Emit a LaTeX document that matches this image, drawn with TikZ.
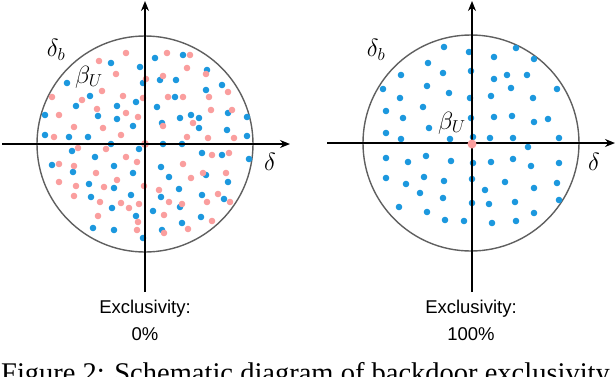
\documentclass[tikz,border=0pt]{standalone}
\usepackage{fontspec}
\setmainfont{Liberation Serif}
\newfontfamily\arialf{Liberation Sans}
\usetikzlibrary{arrows.meta}
\definecolor{dotblue}{RGB}{28,152,222}
\definecolor{dotpink}{RGB}{250,158,158}
\definecolor{ringgray}{RGB}{95,95,95}
\tikzset{
  axisline/.style={line width=1.5pt,-{Stealth[length=10pt,width=8pt]}},
  ring/.style={draw=ringgray,line width=1.4pt},
  bdot/.style={fill=dotblue},
  pdot/.style={fill=dotpink},
  mathlbl/.style={font=\fontsize{23}{23}\selectfont,inner sep=0pt},
  exlbl/.style={font=\arialf\fontsize{18.5}{18.5}\selectfont,inner sep=0pt},
}
\begin{document}
\begin{tikzpicture}[x=1pt,y=-1pt]
\useasboundingbox (0,0) rectangle (616,376);
\clip (0,0) rectangle (616,376);
% ---------- left panel ----------
\coordinate (lc) at (145,144);
\draw[ring] (lc) circle[radius=108];
\foreach \x/\y in {155/58,183/55,111/63,140/67,207/70,160/80,176/80,67/83,143/83,222/85,206/90,90/96,175/97,136/102,76/106,117/106,157/107,191/115,45/115,98/116,180/118,199/118,228/113,247/117,117/119,133/126,162/123,199/128,227/130,45/135,69/137,88/137,247/136,111/144,163/144,182/144,72/151,139/149,202/153,222/155,95/157,249/159,52/165,114/166,161/167,73/172,133/173,206/175,169/177,228/182,89/184,114/188,179/189,131/195,91/197,161/197,202/195,224/199,180/207,112/208,153/211,136/216,201/217,182/223,93/228,114/230,162/230,143/238}
  \fill[bdot] (\x,\y) circle[radius=3.3];
\foreach \x/\y in {126/53,167/53,190/55,99/61,187/68,206/74,116/74,146/79,163/76,228/92,102/91,82/100,52/97,123/96,143/98,168/97,183/97,209/97,97/109,126/113,211/110,232/110,59/115,138/117,74/127,103/128,163/126,193/123,54/137,121/135,187/137,208/138,234/138,78/148,106/149,212/155,229/153,126/157,137/162,59/164,74/166,183/164,96/173,203/173,226/173,191/178,59/182,117/180,76/186,144/186,104/187,159/190,74/196,218/194,230/202,100/202,121/203,169/202,182/204,207/202,139/204,129/208,98/216,164/215,212/221,138/222,137/230,188/229,164/233}
  \fill[pdot] (\x,\y) circle[radius=3.3];
\fill[pdot] (lc) circle[radius=4];
\draw[axisline] (2,144) -- (290,144);
\draw[axisline] (145,292) -- (145,1);
\node[mathlbl] (ldb) at (56,50) {$\delta_b$};
\node[mathlbl] (lbu) at (89,77) {$\beta_U$};
\node[mathlbl] (ld) at (270,162) {$\delta$};
\node[exlbl] (lex) at (145,309) {Exclusivity:};
\node[exlbl] (lpc) at (145,334) {0\%};
% ---------- right panel ----------
\coordinate (rc) at (471,143);
\draw[ring] (rc) circle[radius=108];
\foreach \x/\y in {444/47,516/48,469/52,494/57,534/59,428/63,471/71,443/73,401/75,507/75,527/75,494/79,383/89,427/86,511/88,557/89,449/93,470/98,491/96,400/98,533/98,423/107,386/111,471/118,403/118,494/117,512/116,534/122,548/119,429/128,386/133,401/139,450/139,473/137,490/138,513/138,559/138,528/147,386/158,408/162,426/156,451/161,473/163,491/162,513/159,531/166,559/163,386/178,406/184,424/177,444/181,472/179,505/182,557/183,420/193,485/190,534/188,443/198,515/202,559/200,399/207,472/203,489/204,427/212,534/213,445/220,464/221,492/223,516/221}
  \fill[bdot] (\x,\y) circle[radius=3.3];
\draw[axisline] (327,143) -- (615,143);
\draw[axisline] (472,292) -- (472,1);
\fill[pdot] (472,144) circle[radius=4.5];
\node[mathlbl] (rdb) at (376,50) {$\delta_b$};
\node[mathlbl] (rbu) at (452,123) {$\beta_U$};
\node[mathlbl] (rd) at (594,162) {$\delta$};
\node[exlbl] (rex) at (471,309) {Exclusivity:};
\node[exlbl] (rpc) at (471,334) {100\%};
% ---------- caption (cut off at the lower edge, as in the reference) ----------
\node[anchor=base west,inner sep=0pt,font=\fontsize{28.5}{28.5}\selectfont] (cap) at (1,382) {Figure 2: Schematic diagram of backdoor exclusivity};
\end{tikzpicture}
\end{document}
